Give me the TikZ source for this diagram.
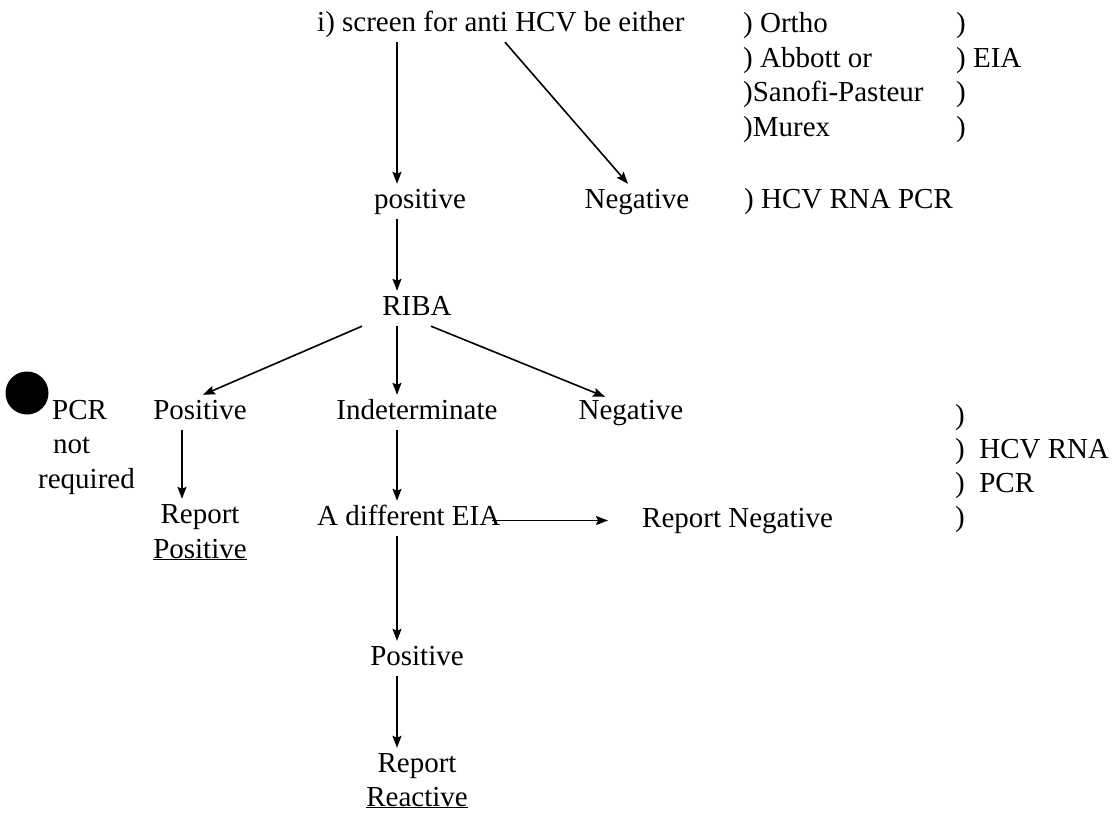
\documentclass[tikz,border=0pt]{standalone}
\usepackage{fontspec}
\setmainfont{Liberation Serif}
\usetikzlibrary{arrows.meta,calc}
\begin{document}
\begin{tikzpicture}[x=1pt,y=-1pt,
  lbl/.style={inner sep=0pt,text height=24pt,text depth=11pt,anchor=base,font=\fontsize{29}{34}\selectfont},
  lblw/.style={lbl,anchor=base west},
  arr/.style={line width=1.6pt,-{Stealth[length=12pt,width=9pt,inset=2pt]}}]
\useasboundingbox (0,0) rectangle (1116,812);
% x columns for vertical arrows
\coordinate (ax) at (397,0);
\coordinate (bx) at (505,0);
\coordinate (px) at (182,0);
% header
\node[lblw] (hdr) at (317,31) {i) screen for anti HCV be either};
\node[lblw] (ortho) at (743,32) {) Ortho};
\node[lblw] (abbott) at (743,67) {) Abbott or};
\node[lblw] (sanofi) at (743,101) {)Sanofi-Pasteur};
\node[lblw] (murex) at (743,136) {)Murex};
\node[lblw] (b1) at (956,32) {)};
\node[lblw] (b2) at (956,67) {) EIA};
\node[lblw] (b3) at (956,101) {)};
\node[lblw] (b4) at (956,136) {)};
% second row
\node[lbl] (pos1) at (420,208) {positive};
\node[lbl] (neg1) at (637,208) {Negative};
\node[lblw] (hcv1) at (744,208) {) HCV RNA PCR};
% RIBA
\node[lbl] (riba) at (417,315) {RIBA};
% third row
\fill (27,393) circle (21.5);
\node[lblw] (pcr) at (52,419) {PCR};
\node[lblw] (nt) at (53,453) {not};
\node[lblw] (req) at (38,488) {required};
\node[lbl] (pos2) at (200,419) {Positive};
\node[lbl] (ind) at (417,419) {Indeterminate};
\node[lbl] (neg2) at (631,419) {Negative};
\node[lblw] (c1) at (955,424) {)};
\node[lblw] (c2) at (955,458) {)\hspace{0.5em}HCV RNA};
\node[lblw] (c3) at (955,492) {)\hspace{0.5em}PCR};
\node[lblw] (c4) at (955,526) {)};
% fourth row
\node[lbl] (rep1) at (200,523) {Report};
\node[lbl] (rep1b) at (200,558) {\underline{Positive}};
\node[lblw] (diff) at (317,525) {A different EIA};
\node[lblw] (repneg) at (642,527) {Report Negative};
% lower
\node[lbl] (pos3) at (417,665) {Positive};
\node[lbl] (rep3) at (417,772) {Report};
\node[lbl] (rep3b) at (417,806) {\underline{Reactive}};
% arrows
\draw[arr] (hdr.south -| ax) -- (pos1.north -| ax);
\draw[arr] (hdr.south -| bx) -- ($(neg1.north)+(-9,0)$);
\draw[arr] (pos1.south -| ax) -- (riba.north -| ax);
\draw[arr] ($(riba.south)+(-55,0)$) -- ($(pos2.north)+(3,0)$);
\draw[arr] (riba.south -| ax) -- (ind.north -| ax);
\draw[arr] ($(riba.south)+(14,0)$) -- ($(neg2.north)+(-26,2)$);
\draw[arr] (pos2.south -| px) -- (rep1.north -| px);
\draw[arr] (ind.south -| ax) -- (diff.north -| ax);
\draw[arr] ($(diff.east |- repneg.west)+(-8,0)$) -- ($(repneg.west)+(-34,0)$);
\draw[arr] (diff.south -| ax) -- (pos3.north -| ax);
\draw[arr] (pos3.south -| ax) -- (rep3.north -| ax);
\end{tikzpicture}
\end{document}
